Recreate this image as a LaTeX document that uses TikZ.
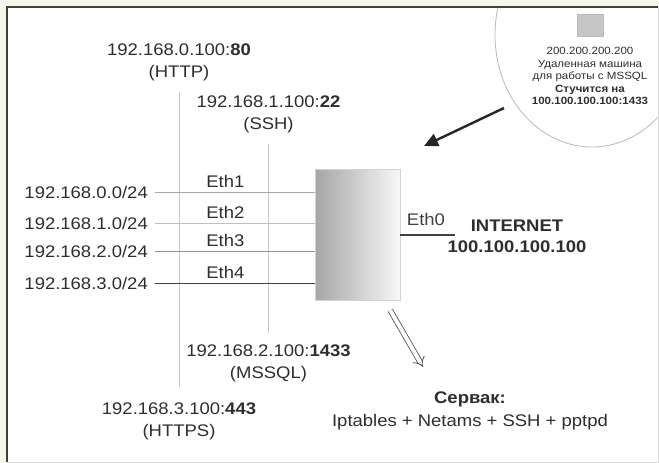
\documentclass[tikz,border=0pt]{standalone}
\usepackage{fontspec}
\setmainfont{Liberation Sans}[FakeStretch=1.1]
\usetikzlibrary{arrows.meta,positioning}
\definecolor{txt}{HTML}{2E2E2E}
\definecolor{cream}{HTML}{F7F6EA}

\begin{document}
\begin{tikzpicture}[
  x=1pt, y=-1pt,
  font=\fontsize{16.8}{22}\selectfont, text=txt,
  lbl/.style={align=center, inner sep=2pt},
  net/.style={anchor=east, inner sep=0pt},
  link/.style={draw=gray!70, line width=0.9pt},
  drop/.style={draw=gray!45, line width=0.9pt},
  ethlbl/.style={above, inner sep=3.5pt, pos=0.44},
  tiny/.style={font=\fontsize{10.5}{12.5}\selectfont, align=center, inner sep=0pt}
]
% frame
\fill[cream] (0,0) rectangle (659,463);
\fill[white] (7,7) rectangle (658,462);
\draw[gray!30] (658,7) -- (658,462) -- (7,462);
\draw[black!75, line width=1.6pt] (7,462) -- (7,7) -- (658,7);
\useasboundingbox (0,0) rectangle (659,463);
% remote machine
\draw[gray!55, line width=0.8pt, domain=194:47.1, samples=60, smooth, variable=\t]
  plot ({592+97*cos(\t)}, {35+112*sin(\t)});
\node[draw=gray!55, fill=gray!45, minimum width=26pt, minimum height=22pt, inner sep=0pt] (remote) at (590,25) {};
\node[tiny] (remotetxt) at (590,76) {200.200.200.200\\Удаленная машина\\для работы с MSSQL\\
  \textbf{Стучится на}\\\textbf{100.100.100.100:1433}};
\coordinate (knockfrom) at (504,108);
\coordinate (knockto) at (424,146);
\draw[black!85, line width=2.4pt, -{Triangle[length=14pt, width=13pt]}] (knockfrom) -- (knockto);

% router
\node[draw=gray!35, left color=gray!70, right color=gray!6, minimum width=85pt, minimum height=131pt] (router) at (357.5,234.5) {};

% services
\node[lbl] (http) at (179,62) {192.168.0.100:\textbf{80}\\(HTTP)};
\node[lbl] (ssh) at (268.5,114) {192.168.1.100:\textbf{22}\\(SSH)};
\node[lbl] (mssql) at (268.5,363) {192.168.2.100:\textbf{1433}\\(MSSQL)};
\node[lbl] (https) at (179,421) {192.168.3.100:\textbf{443}\\(HTTPS)};
\draw[drop, shorten <=9pt, shorten >=13pt] (http) -- (https);
\draw[drop, shorten <=9pt, shorten >=9pt] (ssh) -- (mssql);

% subnets
\node[net] (net0) at (148,192) {192.168.0.0/24};
\node[net] (net1) at (148,223) {192.168.1.0/24};
\node[net] (net2) at (148,251) {192.168.2.0/24};
\node[net] (net3) at (148,283) {192.168.3.0/24};
\draw[link] ([xshift=7pt]net0.east) -- (net0 -| router.west) node[ethlbl] {Eth1};
\draw[link, draw=gray!50] ([xshift=7pt]net1.east) -- (net1 -| router.west) node[ethlbl] {Eth2};
\draw[link, draw=gray!85] ([xshift=7pt]net2.east) -- (net2 -| router.west) node[ethlbl] {Eth3};
\draw[link, draw=black!75] ([xshift=7pt]net3.east) -- (net3 -| router.west) node[ethlbl] {Eth4};

% uplink
\coordinate (uplink) at (455,235);
\draw[black!75, line width=2.8pt] (router.east |- uplink) -- (uplink) node[pos=0.47, above=6pt, inner sep=2pt] {Eth0};
\node[lbl, font=\fontsize{16.8}{21}\selectfont\bfseries] (inet) at (517,236) {INTERNET\\100.100.100.100};

% server
\node[lbl, font=\fontsize{16.8}{23}\selectfont] (srv) at (470,411) {\textbf{Сервак:}\\Iptables + Netams + SSH + pptpd};
\coordinate (srvtip) at (423,367);
\draw[black!70, line width=0.8pt, double, double distance=4pt, -{Implies}] ([shift={(-10pt,-10pt)}]router.south east) -- (srvtip);
\end{tikzpicture}
\end{document}
